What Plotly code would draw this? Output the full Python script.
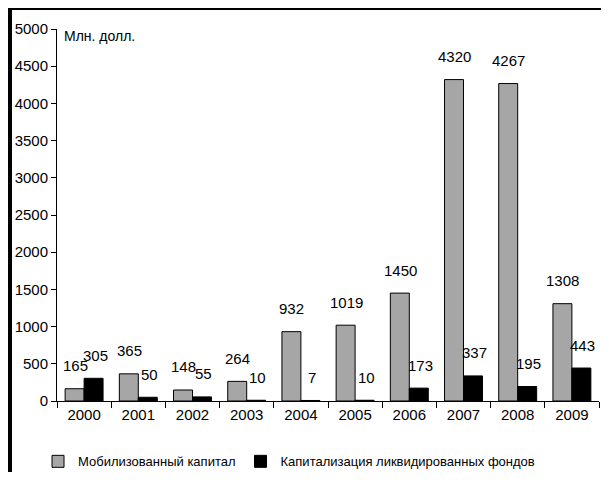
import plotly.graph_objects as go

years = ["2000", "2001", "2002", "2003", "2004", "2005", "2006", "2007", "2008", "2009"]
mobilized = [165, 365, 148, 264, 932, 1019, 1450, 4320, 4267, 1308]
liquidated = [305, 50, 55, 10, 7, 10, 173, 337, 195, 443]
name_mob = "Мобилизованный капитал"
name_liq = "Капитализация ликвидированных фондов"
y_ticks = [0, 500, 1000, 1500, 2000, 2500, 3000, 3500, 4000, 4500, 5000]

FONT = "Liberation Sans, Arial, sans-serif"

fig = go.Figure()
fig.add_trace(go.Bar(x=years, y=mobilized, name=name_mob,
                     marker=dict(color="#A6A6A6", line=dict(color="#000000", width=1))))
fig.add_trace(go.Bar(x=years, y=liquidated, name=name_liq,
                     marker=dict(color="#000000", line=dict(color="#000000", width=1))))

annotations = []
for i, y in enumerate(years):
    annotations.append(dict(x=i, y=mobilized[i], xref="x", yref="y", text=str(mobilized[i]),
                            showarrow=False, xshift=-9, yshift=23, yanchor="middle",
                            font=dict(family=FONT, size=15, color="#000000")))
    annotations.append(dict(x=i, y=liquidated[i], xref="x", yref="y", text=str(liquidated[i]),
                            showarrow=False, xshift=11, yshift=23, yanchor="middle",
                            font=dict(family=FONT, size=15, color="#000000")))
annotations.append(dict(x=0.009, y=0.98, xref="paper", yref="paper", text="Млн. долл.",
                        showarrow=False, xanchor="left", yanchor="middle",
                        font=dict(family=FONT, size=14, color="#000000")))

fig.update_layout(
    width=593, height=464,
    margin=dict(l=49, r=2, t=21, b=71, pad=0, autoexpand=False),
    paper_bgcolor="white", plot_bgcolor="white",
    barmode="group", bargap=0.3, bargroupgap=0,
    font=dict(family=FONT, size=15, color="#000000"),
    showlegend=True,
    legend=dict(orientation="h", x=-0.035, xanchor="left", y=-0.122, yanchor="top",
                font=dict(family=FONT, size=13, color="#000000"),
                itemwidth=30, traceorder="normal", bgcolor="rgba(0,0,0,0)"),
    annotations=annotations,
    shapes=[
        dict(type="line", xref="paper", yref="paper", x0=-0.0867, x1=-0.0867, y0=-0.3, y1=1.06,
             line=dict(color="#000000", width=4)),
        dict(type="line", xref="paper", yref="paper", x0=-0.0886, x1=1.03, y0=1.0565, y1=1.0565,
             line=dict(color="#000000", width=4)),
    ],
)
fig.update_xaxes(type="category", range=[-0.5, len(years) - 0.5], showline=True,
                 linecolor="#000000", linewidth=1,
                 ticks="outside", tickson="boundaries", ticklen=6, tickcolor="#000000",
                 showgrid=False, tickangle=0, tickfont=dict(family=FONT, size=15))
fig.update_yaxes(range=[0, 5000], tickvals=y_ticks, showline=True, linecolor="#000000", linewidth=1,
                 ticks="outside", ticklen=5, tickcolor="#000000", showgrid=False, zeroline=False,
                 tickfont=dict(family=FONT, size=15))

fig.write_html("out.html")
